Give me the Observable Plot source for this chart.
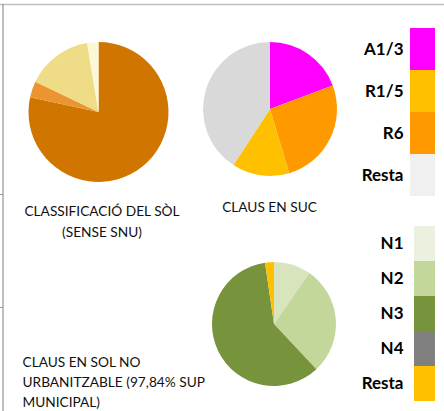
<!DOCTYPE html>
<html><head><meta charset="utf-8">
<script src="https://cdn.jsdelivr.net/npm/d3@7"></script>
<script src="https://cdn.jsdelivr.net/npm/@observablehq/plot@0.6"></script>
<style>body{margin:0;background:#fff} svg{display:block}</style>
</head><body><div id="chart"></div>
<script>
// ---- data ----
const pie1Classes = ["Classe 1", "Classe 2", "Classe 3", "Classe 4"];
const pie1Values = [78.4, 3.7, 15.3, 2.6];
const pie1Colors = ["#D07600", "#EB9530", "#EEDC86", "#FAF8D6"];

const pie2Keys = ["A1/3", "R6", "R1/5", "Resta"];
const pie2Values = [19.3, 26.1, 13.8, 40.8];
const pie2Colors = ["#FF00FF", "#FF9900", "#FFC000", "#D9D9D9"];

const pie3Keys = ["N1", "N2", "N3", "N4", "Resta"];
const pie3Values = [9.6, 28.2, 59.3, 0, 2.3];
const pie3Colors = ["#D8E4BC", "#C4D79B", "#77933C", "#808080", "#FFC000"];

const legend1Labels = ["A1/3", "R1/5", "R6", "Resta"];
const legend1Colors = ["#FF00FF", "#FFC000", "#FF9900", "#F0F0F0"];
const legend2Labels = ["N1", "N2", "N3", "N4", "Resta"];
const legend2Colors = ["#EBF1DE", "#C4D79B", "#77933C", "#808080", "#FFC000"];

const title1 = "CLASSIFICACIÓ DEL SÒL\n(SENSE SNU)";
const title2 = "CLAUS EN SUC";
const title3 = "CLAUS EN SOL NO\nURBANITZABLE (97,84% SUP\nMUNICIPAL)";

// ---- layout ----
const W = 444, H = 411;
const FONT = "Lato, 'Open Sans', sans-serif";
const FS = 13.7;

function pieMark(values, colors, cx, cy, r) {
  return (index, scales) => {
    const X = scales && scales.x ? scales.x : (v => v);
    const Y = scales && scales.y ? scales.y : (v => v);
    const arcs = d3.pie().sort(null).value(d => d)(values);
    const arc = d3.arc().innerRadius(0).outerRadius(r);
    const g = d3.create("svg:g").attr("transform", `translate(${X(cx)},${Y(cy)})`);
    g.selectAll("path").data(arcs).join("path")
      .attr("d", arc).attr("fill", (d, i) => colors[i]);
    return g.node();
  };
}

const leg1 = legend1Labels.map((label, i) => ({label, color: legend1Colors[i], y1: 28 + i * 42, y2: 28 + (i + 1) * 42}));
const leg2 = legend2Labels.map((label, i) => ({label, color: legend2Colors[i], y1: 226 + i * 35, y2: 226 + (i + 1) * 35}));

const chart = Plot.plot({
  width: W, height: H,
  margin: 0,
  x: {domain: [0, W], range: [0, W], axis: null},
  y: {domain: [0, H], range: [0, H], axis: null},
  style: {fontFamily: FONT, background: "#fff"},
  marks: [
    // frame
    Plot.ruleY([4], {x1: 0, x2: W, stroke: "#BFBFBF", strokeWidth: 1.5}),
    Plot.ruleX([2.5], {y1: 4, y2: H, stroke: "#7F7F7F", strokeWidth: 1}),
    Plot.ruleY([194, 307], {x1: 0, x2: 3, stroke: "#9A9A9A", strokeWidth: 1}),
    // pies
    pieMark(pie1Values, pie1Colors, 98.5, 112, 70),
    pieMark(pie2Values, pie2Colors, 270, 109, 67),
    pieMark(pie3Values, pie3Colors, 274, 324, 62),
    // titles
    Plot.text([title1], {x: 101.5, y: 200.5, text: d => d, textAnchor: "middle", lineAnchor: "top", lineHeight: 21 / FS, fontSize: FS, fill: "#111"}),
    Plot.text([title2], {x: 269, y: 201.5, text: d => d, textAnchor: "middle", lineAnchor: "top", fontSize: FS, fill: "#111"}),
    Plot.text([title3], {x: 22, y: 352.5, text: d => d, textAnchor: "start", lineAnchor: "top", lineHeight: 20 / FS, fontSize: FS, fill: "#111"}),
    // legends
    Plot.rect(leg1, {x1: 410, x2: 435, y1: "y1", y2: "y2", fill: "color"}),
    Plot.text(leg1, {x: 403, y: d => (d.y1 + d.y2) / 2, text: "label", textAnchor: "end", fontSize: 17, fontWeight: "bold", fill: "#000"}),
    Plot.rect(leg2, {x1: 414, x2: 435, y1: "y1", y2: "y2", fill: "color"}),
    Plot.text(leg2, {x: 403, y: d => (d.y1 + d.y2) / 2, text: "label", textAnchor: "end", fontSize: 17, fontWeight: "bold", fill: "#000"})
  ]
});
document.getElementById("chart").append(chart);
</script>
</body></html>
